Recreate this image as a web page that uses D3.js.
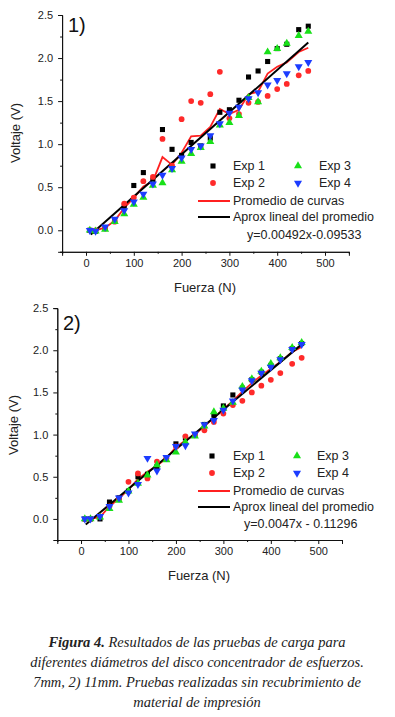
<!DOCTYPE html>
<html>
<head>
<meta charset="utf-8">
<script src="https://cdn.jsdelivr.net/npm/d3@7"></script>
<style>
  body { margin: 0; background: #fff; }
  svg { display: block; }
  .axis text { font-family: "Liberation Sans", Arial, sans-serif; font-size: 11px; fill: #222; }
  .caption { font-family: "Liberation Serif", "Times New Roman", serif; font-style: italic; font-size: 14.5px; fill: #222; }
</style>
</head>
<body>
<svg id="fig" width="395" height="717"></svg>
<script>
// fuerza aplicada (N), comun a todas las curvas
const fuerza = [8, 20, 40, 60, 80, 100, 120, 140, 160, 180, 200, 220, 240, 260, 280, 300, 320, 340, 360, 380, 400, 420, 445, 465];

// 1) disco de 7mm
const exp1_a = [0.00, -0.01, 0.03, 0.12, 0.28, 0.52, 0.67, 0.58, 1.17, 0.94, 0.87, 1.02, 0.98, 1.07, 1.37, 1.40, 1.51, 1.78, 1.85, 1.96, 2.11, 2.16, 2.33, 2.37];
const exp2_a = [0.00, 0.00, 0.02, 0.10, 0.31, 0.38, 0.57, 0.62, 1.06, 0.75, 1.29, 1.50, 1.48, 1.58, 1.84, 1.30, 1.35, 1.48, 1.49, 1.56, 1.64, 1.70, 1.80, 1.85];
const exp3_a = [0.00, -0.01, 0.01, 0.10, 0.19, 0.30, 0.38, 0.52, 0.55, 0.70, 0.80, 0.89, 0.96, 1.03, 1.22, 1.25, 1.33, 1.54, 1.49, 2.07, 2.11, 2.17, 2.26, 2.31];
const exp4_a = [0.00, -0.01, 0.04, 0.13, 0.23, 0.33, 0.42, 0.54, 0.64, 0.72, 0.84, 0.94, 0.98, 1.10, 1.24, 1.36, 1.43, 1.53, 1.60, 1.69, 1.74, 1.82, 1.90, 1.95];
const prom_a = [0.00, 0.00, 0.03, 0.11, 0.26, 0.38, 0.51, 0.57, 0.85, 0.76, 0.90, 1.09, 1.10, 1.20, 1.41, 1.35, 1.40, 1.58, 1.61, 1.82, 1.90, 1.95, 2.07, 2.12];
const ajusteX_a = [10, 465];
const ajusteY_a = [-0.05, 2.18];

// 2) disco de 11mm
const exp1_b = [0.00, 0.00, 0.00, 0.20, 0.25, 0.33, 0.50, 0.53, 0.62, 0.72, 0.89, 0.96, 1.00, 1.12, 1.23, 1.34, 1.47, 1.55, 1.65, 1.74, 1.82, 1.90, 2.02, 2.08];
const exp2_b = [0.00, 0.00, 0.03, 0.15, 0.24, 0.44, 0.54, 0.48, 0.68, 0.72, 0.86, 0.98, 1.00, 1.05, 1.15, 1.25, 1.35, 1.40, 1.50, 1.58, 1.65, 1.73, 1.84, 1.91];
const exp3_b = [0.00, 0.00, 0.02, 0.12, 0.22, 0.33, 0.42, 0.52, 0.64, 0.70, 0.79, 0.91, 0.98, 1.10, 1.27, 1.31, 1.38, 1.57, 1.66, 1.75, 1.84, 1.91, 2.03, 2.09];
const exp4_b = [0.00, 0.00, 0.03, 0.15, 0.25, 0.31, 0.41, 0.72, 0.57, 0.73, 0.86, 0.87, 1.01, 1.12, 1.17, 1.29, 1.40, 1.53, 1.64, 1.73, 1.80, 1.89, 2.01, 2.07];
const prom_b = [0.00, 0.00, 0.02, 0.15, 0.24, 0.35, 0.47, 0.56, 0.63, 0.72, 0.85, 0.93, 1.00, 1.10, 1.20, 1.30, 1.40, 1.51, 1.61, 1.70, 1.78, 1.86, 1.98, 2.04];
const ajusteX_b = [10, 465];
const ajusteY_b = [-0.065, 2.07];

const xTicks = [0, 100, 200, 300, 400, 500];
const yTicks = [0, 0.5, 1.0, 1.5, 2.0, 2.5];
const xMinor = [-50, 50, 150, 250, 350, 450, 550];
const yMinor = [-0.25, 0.25, 0.75, 1.25, 1.75, 2.25];

const expNames = ['Exp 1', 'Exp 2', 'Exp 3', 'Exp 4'];
const lineNames = ['Promedio de curvas', 'Aprox lineal del promedio'];

const caption = [
    ['Figura 4.', ' Resultados de las pruebas de carga para'],
    ['', 'diferentes diámetros del disco concentrador de esfuerzos.'],
    ['', '7mm, 2) 11mm. Pruebas realizadas sin recubrimiento de'],
    ['', 'material de impresión']
];

const FONT = '"Liberation Sans", Arial, sans-serif';

class LoadChart {

    constructor( config, data ) {
        this.config = config;
        this.data = data;
        this.render();
    }

    render() {
        let self = this;
        const c = self.config;
        const svg = d3.select('#fig');
        const g = svg.append('g');

        const xscale = d3.scaleLinear().domain([-50, 550]).range(c.xrange);
        const yscale = d3.scaleLinear().domain([-0.25, 2.5]).range(c.yrange);

        // ejes
        g.append('g').attr('class', 'axis')
            .attr('transform', `translate(0, ${c.yrange[0]})`)
            .call( d3.axisBottom(xscale).tickValues(xTicks).tickSize(4).tickPadding(3) );
        g.append('g').attr('class', 'axis')
            .attr('transform', `translate(0, ${c.yrange[0]})`)
            .call( d3.axisBottom(xscale).tickValues(xMinor).tickSize(2).tickFormat('') );
        g.append('g').attr('class', 'axis')
            .attr('transform', `translate(${c.xrange[0]}, 0)`)
            .call( d3.axisLeft(yscale).tickValues(yTicks).tickSize(4).tickPadding(5).tickFormat(d3.format('.1f')) );
        g.append('g').attr('class', 'axis')
            .attr('transform', `translate(${c.xrange[0]}, 0)`)
            .call( d3.axisLeft(yscale).tickValues(yMinor).tickSize(2).tickFormat('') );
        g.selectAll('.axis path, .axis line').attr('stroke', '#111');

        // etiquetas
        g.append('text')
            .attr('x', c.xlabel[0]).attr('y', c.xlabel[1])
            .attr('text-anchor', 'middle').attr('dominant-baseline', 'central')
            .style('font-family', FONT).style('font-size', '13px').attr('fill', '#222')
            .text('Fuerza (N)');
        g.append('text')
            .attr('transform', `translate(${c.ylabel[0]}, ${c.ylabel[1]}) rotate(-90)`)
            .attr('text-anchor', 'middle').attr('dominant-baseline', 'central')
            .style('font-family', FONT).style('font-size', '13px').attr('fill', '#222')
            .text('Voltaje (V)');
        g.append('text')
            .attr('x', c.tag[0]).attr('y', c.tag[1])
            .attr('dominant-baseline', 'central')
            .style('font-family', FONT).style('font-size', '20px').attr('fill', '#111')
            .text(c.title);

        // curvas
        const line = d3.line().x(d => xscale(d[0])).y(d => yscale(d[1]));
        g.append('path')
            .datum(fuerza.map((f, i) => [f, self.data.prom[i]]))
            .attr('d', line).attr('fill', 'none')
            .attr('stroke', c.colors[4]).attr('stroke-width', 1.8);
        g.append('path')
            .datum(self.data.ajusteX.map((f, i) => [f, self.data.ajusteY[i]]))
            .attr('d', line).attr('fill', 'none')
            .attr('stroke', c.colors[5]).attr('stroke-width', 2);

        // puntos
        self.data.series.forEach((s, k) => {
            g.append('g').selectAll('path')
                .data(fuerza.map((f, i) => [f, s[i]]))
                .join('path')
                .attr('d', c.symbols[k])
                .attr('transform', d => `translate(${xscale(d[0])}, ${yscale(d[1])})` + (k === 3 ? ' rotate(180)' : ''))
                .attr('fill', c.colors[k]);
        });

        // leyenda
        const L = c.legend;
        expNames.forEach((name, k) => {
            const col = k < 2 ? 0 : 1;
            const row = k % 2;
            const mx = L.markerX[col];
            const my = L.rows[row];
            g.append('path')
                .attr('d', c.symbols[k])
                .attr('transform', `translate(${mx}, ${my})` + (k === 3 ? ' rotate(180)' : ''))
                .attr('fill', c.colors[k]);
            g.append('text')
                .attr('x', L.textX[col]).attr('y', my)
                .attr('dominant-baseline', 'central')
                .style('font-family', FONT).style('font-size', '12.5px').attr('fill', '#222')
                .text(name);
        });
        lineNames.forEach((name, k) => {
            const y = L.rows[2 + k];
            g.append('line')
                .attr('x1', L.lineX[0]).attr('x2', L.lineX[1])
                .attr('y1', y).attr('y2', y)
                .attr('stroke', c.colors[4 + k]).attr('stroke-width', 2);
            g.append('text')
                .attr('x', L.textX[0]).attr('y', y)
                .attr('dominant-baseline', 'central')
                .style('font-family', FONT).style('font-size', '12.5px').attr('fill', '#222')
                .text(name);
        });
        g.append('text')
            .attr('x', L.eq[0]).attr('y', L.eq[1])
            .attr('dominant-baseline', 'central')
            .style('font-family', FONT).style('font-size', '12.5px').attr('fill', '#222')
            .text(c.equation);
    }
}

const symbols = [
    d3.symbol(d3.symbolSquare, 26)(),
    d3.symbol(d3.symbolCircle, 26)(),
    d3.symbol(d3.symbolTriangle, 28)(),
    d3.symbol(d3.symbolTriangle, 28)()
];
const colors = ['#000000', '#ff2a2a', '#18e018', '#1c3cff', '#ff2020', '#000000'];

new LoadChart({
    title: '1)',
    xrange: [62.1, 348.9],
    yrange: [251.8, 15],
    xlabel: [205, 287],
    ylabel: [15, 133],
    tag: [68, 25],
    symbols: symbols,
    colors: colors,
    equation: 'y=0.00492x-0.09533',
    legend: { markerX: [213, 298], textX: [233, 319], rows: [166, 183, 201, 217], lineX: [198, 230], eq: [247, 235] }
}, { series: [exp1_a, exp2_a, exp3_a, exp4_a], prom: prom_a, ajusteX: ajusteX_a, ajusteY: ajusteY_a });

new LoadChart({
    title: '2)',
    xrange: [57.3, 342],
    yrange: [540, 308.1],
    xlabel: [199, 575],
    ylabel: [13, 425],
    tag: [63, 323],
    symbols: symbols,
    colors: colors,
    equation: 'y=0.0047x - 0.11296',
    legend: { markerX: [212, 297], textX: [233, 317], rows: [456, 473, 491, 507], lineX: [198, 230], eq: [244, 524] }
}, { series: [exp1_b, exp2_b, exp3_b, exp4_b], prom: prom_b, ajusteX: ajusteX_b, ajusteY: ajusteY_b });

// pie de figura
const cap = d3.select('#fig').append('g');
const capY = [642, 662, 682, 702];
caption.forEach((parts, i) => {
    const t = cap.append('text')
        .attr('class', 'caption')
        .attr('x', 197).attr('y', capY[i])
        .attr('text-anchor', 'middle').attr('dominant-baseline', 'central');
    if (parts[0]) t.append('tspan').style('font-weight', 'bold').text(parts[0]);
    t.append('tspan').text(parts[1]);
});
</script>
</body>
</html>
